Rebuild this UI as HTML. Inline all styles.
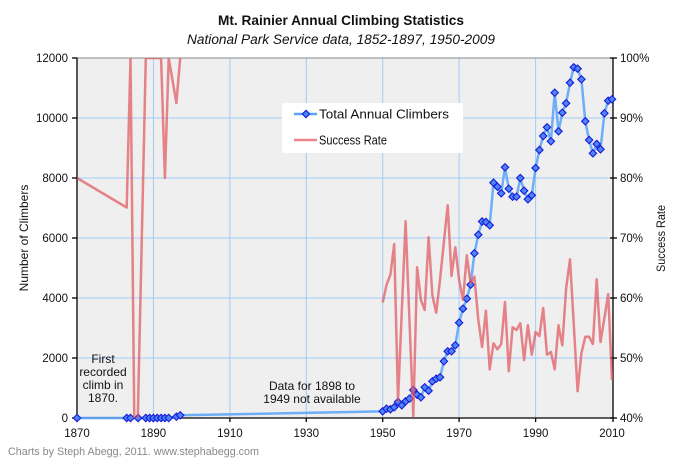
<!DOCTYPE html>
<html><head><meta charset="utf-8"><style>
html,body{margin:0;padding:0;background:#fff;width:678px;height:464px;overflow:hidden;}
svg{display:block;overflow:hidden;font-family:"Liberation Sans","DejaVu Sans",sans-serif;}
</style></head><body>
<svg width="678" height="464" viewBox="0 0 678 464" xmlns="http://www.w3.org/2000/svg">
<defs>
<clipPath id="pc"><rect x="77" y="58" width="536" height="360"/></clipPath>
<path id="m" d="M0 -3.7L3.7 0L0 3.7L-3.7 0Z" fill="#4a86f5" stroke="#1a1ad8" stroke-width="1.1"/>
</defs>
<rect width="678" height="464" fill="#fff"/>
<text x="341" y="25" text-anchor="middle" font-size="13.5" font-weight="bold" fill="#111" textLength="246" lengthAdjust="spacingAndGlyphs">Mt. Rainier Annual Climbing Statistics</text>
<text x="341" y="44" text-anchor="middle" font-size="13.5" font-style="italic" fill="#111" textLength="308" lengthAdjust="spacingAndGlyphs">National Park Service data, 1852-1897, 1950-2009</text>

<rect x="77" y="58" width="536" height="360" fill="#efefef"/>
<g stroke="#a0cdf8" stroke-width="1">
<line x1="77" y1="118" x2="613" y2="118"/>
<line x1="77" y1="178" x2="613" y2="178"/>
<line x1="77" y1="238" x2="613" y2="238"/>
<line x1="77" y1="298" x2="613" y2="298"/>
<line x1="77" y1="358" x2="613" y2="358"/>
<line x1="153.4" y1="58" x2="153.4" y2="418"/>
<line x1="229.9" y1="58" x2="229.9" y2="418"/>
<line x1="306.3" y1="58" x2="306.3" y2="418"/>
<line x1="382.7" y1="58" x2="382.7" y2="418"/>
<line x1="459.1" y1="58" x2="459.1" y2="418"/>
<line x1="535.6" y1="58" x2="535.6" y2="418"/>
</g>
<line x1="77" y1="58" x2="613" y2="58" stroke="#8a8a8a" stroke-width="1"/>

<rect x="282" y="103" width="181" height="50" fill="#fff"/>
<line x1="294" y1="114" x2="317" y2="114" stroke="#5ea6f7" stroke-width="2.5"/>
<use href="#m" x="306" y="114"/>
<text x="319" y="118.5" font-size="12.5" fill="#111" textLength="130" lengthAdjust="spacingAndGlyphs">Total Annual Climbers</text>
<line x1="294" y1="140" x2="317" y2="140" stroke="#e05860" stroke-opacity="0.72" stroke-width="2.5"/>
<text x="319" y="144.5" font-size="12.5" fill="#111" textLength="68" lengthAdjust="spacingAndGlyphs">Success Rate</text>

<g fill="#111" font-size="12" text-anchor="middle">
<text x="103" y="363">First</text>
<text x="103" y="376">recorded</text>
<text x="103" y="389">climb in</text>
<text x="103" y="402">1870.</text>
<text x="312" y="390">Data for 1898 to</text>
<text x="312" y="403">1949 not available</text>
</g>

<g stroke="#000" stroke-width="1.3">
<line x1="77" y1="57.5" x2="77" y2="418.5"/>
<line x1="76.5" y1="418" x2="613.5" y2="418"/>
<line x1="613" y1="57.5" x2="613" y2="418.5"/>
<line x1="72" y1="58" x2="77" y2="58"/><line x1="72" y1="118" x2="77" y2="118"/><line x1="72" y1="178" x2="77" y2="178"/><line x1="72" y1="238" x2="77" y2="238"/><line x1="72" y1="298" x2="77" y2="298"/><line x1="72" y1="358" x2="77" y2="358"/><line x1="72" y1="418" x2="77" y2="418"/>
<line x1="610" y1="58" x2="617" y2="58"/><line x1="610" y1="118" x2="617" y2="118"/><line x1="610" y1="178" x2="617" y2="178"/><line x1="610" y1="238" x2="617" y2="238"/><line x1="610" y1="298" x2="617" y2="298"/><line x1="610" y1="358" x2="617" y2="358"/><line x1="610" y1="418" x2="617" y2="418"/>
<line x1="77" y1="418" x2="77" y2="422"/><line x1="153.4" y1="418" x2="153.4" y2="422"/><line x1="229.9" y1="418" x2="229.9" y2="422"/><line x1="306.3" y1="418" x2="306.3" y2="422"/><line x1="382.7" y1="418" x2="382.7" y2="422"/><line x1="459.1" y1="418" x2="459.1" y2="422"/><line x1="535.6" y1="418" x2="535.6" y2="422"/><line x1="613" y1="418" x2="613" y2="422"/>
</g>

<g font-size="11.5" fill="#111" text-anchor="end">
<text x="68" y="62">12000</text>
<text x="68" y="122">10000</text>
<text x="68" y="182">8000</text>
<text x="68" y="242">6000</text>
<text x="68" y="302">4000</text>
<text x="68" y="362">2000</text>
<text x="68" y="422">0</text>
</g>
<g font-size="11.5" fill="#111">
<text x="620" y="62">100%</text>
<text x="620" y="122">90%</text>
<text x="620" y="182">80%</text>
<text x="620" y="242">70%</text>
<text x="620" y="302">60%</text>
<text x="620" y="362">50%</text>
<text x="620" y="422">40%</text>
</g>
<g font-size="11.5" fill="#111" text-anchor="middle">
<text x="77" y="437">1870</text>
<text x="153.4" y="437">1890</text>
<text x="229.9" y="437">1910</text>
<text x="306.3" y="437">1930</text>
<text x="382.7" y="437">1950</text>
<text x="459.1" y="437">1970</text>
<text x="535.6" y="437">1990</text>
<text x="612" y="437">2010</text>
</g>
<text transform="translate(28,238) rotate(-90)" text-anchor="middle" font-size="12" fill="#111">Number of Climbers</text>
<text transform="translate(665,238.5) rotate(-90)" text-anchor="middle" font-size="12" fill="#111" textLength="67" lengthAdjust="spacingAndGlyphs">Success Rate</text>
<text x="8" y="455" font-size="11" fill="#888" textLength="251" lengthAdjust="spacingAndGlyphs">Charts by Steph Abegg, 2011. www.stephabegg.com</text>

<polyline fill="none" stroke="#5ea6f7" stroke-opacity="0.9" stroke-width="2.5" stroke-linejoin="round" points="77,418 126.7,418 130.5,418 138.1,418 145.8,418 149.6,418 153.4,418 157.2,418 161.1,418 164.9,418 168.7,418 176.4,416.7 180.2,415.3 382.7,411.3 386.5,408.7 390.4,409.3 394.2,407.3 398.0,402 401.8,405.3 405.6,401.3 409.4,398.7 413.3,390 417.1,394.7 420.9,397.3 424.7,387.3 428.6,390.7 432.4,381.3 436.2,378.7 440.0,377.3 443.9,361.3 447.7,351.3 451.5,351.3 455.3,345.3 459.1,322.7 463.0,308.7 466.8,298.7 470.6,284.7 474.4,253.3 478.3,234.7 482.1,221.5 485.9,222 489.7,225.3 493.5,182.7 497.4,186.7 501.2,193.3 505.0,167.3 508.8,188.7 512.6,196.7 516.5,196.7 520.3,178 524.1,190.7 527.9,199.3 531.8,195.3 535.6,168 539.4,150 543.2,136 547.0,127.3 550.9,141.3 554.7,92.7 558.5,131.3 562.3,112.7 566.1,103.3 570.0,82.7 573.8,67.3 577.6,68.7 581.4,79.3 585.3,121.3 589.1,140 592.9,153.3 596.7,144 600.5,149.3 604.4,113.3 608.2,100.7 612.0,99.3"/>

<g>
<use href="#m" x="77" y="418"/><use href="#m" x="126.7" y="418"/><use href="#m" x="130.5" y="418"/><use href="#m" x="138.1" y="418"/><use href="#m" x="145.8" y="418"/><use href="#m" x="149.6" y="418"/><use href="#m" x="153.4" y="418"/><use href="#m" x="157.2" y="418"/><use href="#m" x="161.1" y="418"/><use href="#m" x="164.9" y="418"/><use href="#m" x="168.7" y="418"/><use href="#m" x="176.4" y="416.7"/><use href="#m" x="180.2" y="415.3"/>
<use href="#m" x="382.7" y="411.3"/><use href="#m" x="386.5" y="408.7"/><use href="#m" x="390.4" y="409.3"/><use href="#m" x="394.2" y="407.3"/><use href="#m" x="398.0" y="402"/><use href="#m" x="401.8" y="405.3"/><use href="#m" x="405.6" y="401.3"/><use href="#m" x="409.4" y="398.7"/><use href="#m" x="413.3" y="390"/><use href="#m" x="417.1" y="394.7"/><use href="#m" x="420.9" y="397.3"/><use href="#m" x="424.7" y="387.3"/><use href="#m" x="428.6" y="390.7"/><use href="#m" x="432.4" y="381.3"/><use href="#m" x="436.2" y="378.7"/><use href="#m" x="440.0" y="377.3"/><use href="#m" x="443.9" y="361.3"/><use href="#m" x="447.7" y="351.3"/><use href="#m" x="451.5" y="351.3"/><use href="#m" x="455.3" y="345.3"/><use href="#m" x="459.1" y="322.7"/><use href="#m" x="463.0" y="308.7"/><use href="#m" x="466.8" y="298.7"/><use href="#m" x="470.6" y="284.7"/><use href="#m" x="474.4" y="253.3"/><use href="#m" x="478.3" y="234.7"/><use href="#m" x="482.1" y="221.5"/><use href="#m" x="485.9" y="222"/><use href="#m" x="489.7" y="225.3"/><use href="#m" x="493.5" y="182.7"/><use href="#m" x="497.4" y="186.7"/><use href="#m" x="501.2" y="193.3"/><use href="#m" x="505.0" y="167.3"/><use href="#m" x="508.8" y="188.7"/><use href="#m" x="512.6" y="196.7"/><use href="#m" x="516.5" y="196.7"/><use href="#m" x="520.3" y="178"/><use href="#m" x="524.1" y="190.7"/><use href="#m" x="527.9" y="199.3"/><use href="#m" x="531.8" y="195.3"/><use href="#m" x="535.6" y="168"/><use href="#m" x="539.4" y="150"/><use href="#m" x="543.2" y="136"/><use href="#m" x="547.0" y="127.3"/><use href="#m" x="550.9" y="141.3"/><use href="#m" x="554.7" y="92.7"/><use href="#m" x="558.5" y="131.3"/><use href="#m" x="562.3" y="112.7"/><use href="#m" x="566.1" y="103.3"/><use href="#m" x="570.0" y="82.7"/><use href="#m" x="573.8" y="67.3"/><use href="#m" x="577.6" y="68.7"/><use href="#m" x="581.4" y="79.3"/><use href="#m" x="585.3" y="121.3"/><use href="#m" x="589.1" y="140"/><use href="#m" x="592.9" y="153.3"/><use href="#m" x="596.7" y="144"/><use href="#m" x="600.5" y="149.3"/><use href="#m" x="604.4" y="113.3"/><use href="#m" x="608.2" y="100.7"/><use href="#m" x="612.0" y="99.3"/>
</g>

<g clip-path="url(#pc)" fill="none" stroke="#e05860" stroke-opacity="0.72" stroke-width="2.5" stroke-linejoin="round">
<polyline points="77,178 126.7,207.5 130.5,58 134.5,440 137.3,440 145.8,58 149.6,58 153.4,58 157.2,58 161.1,58 164.9,178 168.7,58 176.4,103 180.2,58"/>
<polyline points="382.7,302.5 386.5,285 390.4,274.7 394.2,244 398.0,401 401.8,311 405.6,221.3 409.4,319 413.3,416.7 417.1,267.3 420.9,300 424.7,310 428.6,237.3 432.4,295.3 436.2,312.7 440.0,280 443.9,242 447.7,205.3 451.5,276 455.3,247.3 459.1,280 463.0,300 466.8,255.3 470.6,283.3 474.4,276.7 478.3,320 482.1,347 485.9,310.7 489.7,369.5 493.5,343.3 497.4,349.3 501.2,344 505.0,302 508.8,371.3 512.6,327.3 516.5,330 520.3,323.3 524.1,360 527.9,325.3 531.8,354.7 535.6,332 539.4,336 543.2,308 547.0,354.7 550.9,352 554.7,369.3 558.5,325.3 562.3,345.3 566.1,288.7 570.0,259.3 573.8,325 577.6,391.3 581.4,353.3 585.3,336.7 589.1,336.7 592.9,344 596.7,279.3 600.5,342 604.4,318 608.2,294 612.0,380"/>
</g>
</svg>
</body></html>
